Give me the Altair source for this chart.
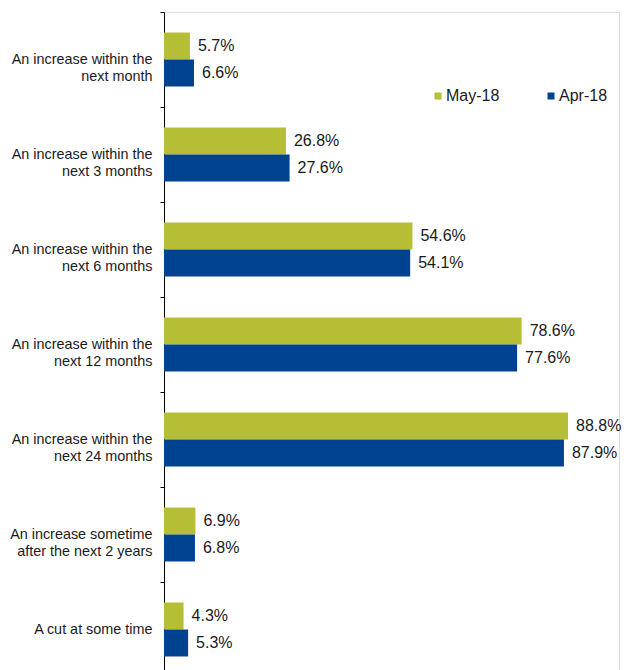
import altair as alt
import pandas as pd

categories = [
    "An increase within the\nnext month",
    "An increase within the\nnext 3 months",
    "An increase within the\nnext 6 months",
    "An increase within the\nnext 12 months",
    "An increase within the\nnext 24 months",
    "An increase sometime\nafter the next 2 years",
    "A cut at some time",
]
series = ["May-18", "Apr-18"]
may_18 = [5.7, 26.8, 54.6, 78.6, 88.8, 6.9, 4.3]
apr_18 = [6.6, 27.6, 54.1, 77.6, 87.9, 6.8, 5.3]
colors = ["#B6BE35", "#00428F"]

rows = []
for c, m, a in zip(categories, may_18, apr_18):
    rows.append({"category": c, "series": series[0], "value": m})
    rows.append({"category": c, "series": series[1], "value": a})
df = pd.DataFrame(rows)

FONT = "Liberation Sans"

y_enc = alt.Y(
    "category:N",
    sort=categories,
    scale=alt.Scale(paddingInner=0, paddingOuter=0, range=[0, 665]),
    axis=alt.Axis(
        title=None,
        labelExpr="split(datum.label, '\\n')",
        labelFontSize=14.4,
        labelFont=FONT,
        labelColor="#1a1a1a",
        labelLineHeight=17,
        labelPadding=8,
        tickSize=4,
        tickBand="extent",
        tickColor="#000000",
        domainColor="#000000",
        domainWidth=1,
        tickWidth=1,
        labelLimit=300,
    ),
)
yoff = alt.YOffset(
    "series:N",
    sort=series,
    scale=alt.Scale(paddingInner=0, paddingOuter=0.76),
)
x_enc = alt.X("value:Q", scale=alt.Scale(domain=[0, 100]), axis=None)

base = alt.Chart(df)

bars = base.mark_bar().encode(
    y=y_enc,
    yOffset=yoff,
    x=x_enc,
    color=alt.Color(
        "series:N",
        sort=series,
        scale=alt.Scale(domain=series, range=colors),
        legend=alt.Legend(
            title=None,
            orient="none",
            legendX=266,
            legendY=76,
            direction="horizontal",
            columns=2,
            symbolType="square",
            symbolSize=49,
            symbolStrokeWidth=0,
            labelFontSize=16,
            labelFont=FONT,
            labelColor="#1a1a1a",
            labelOffset=0,
            columnPadding=43,
            padding=0,
        ),
    ),
)

labels = base.transform_calculate(
    label="format(datum.value, '.1f') + '%'"
).mark_text(
    align="left", baseline="middle", dx=8, fontSize=16, font=FONT, color="#1a1a1a"
).encode(
    y=alt.Y("category:N", sort=categories),
    yOffset=alt.YOffset("series:N", sort=series),
    x=alt.X("value:Q"),
    text="label:N",
)

chart = (
    alt.layer(bars, labels)
    .properties(
        width=455,
        height=658,
        autosize=alt.AutoSizeParams(type="none"),
        padding={"left": 156, "top": 4, "right": 3, "bottom": 0},
    )
    .configure_view(stroke=None)
    .configure(background="white")
)

chart.save("out.html", embed_options={"renderer": "svg", "actions": False})
